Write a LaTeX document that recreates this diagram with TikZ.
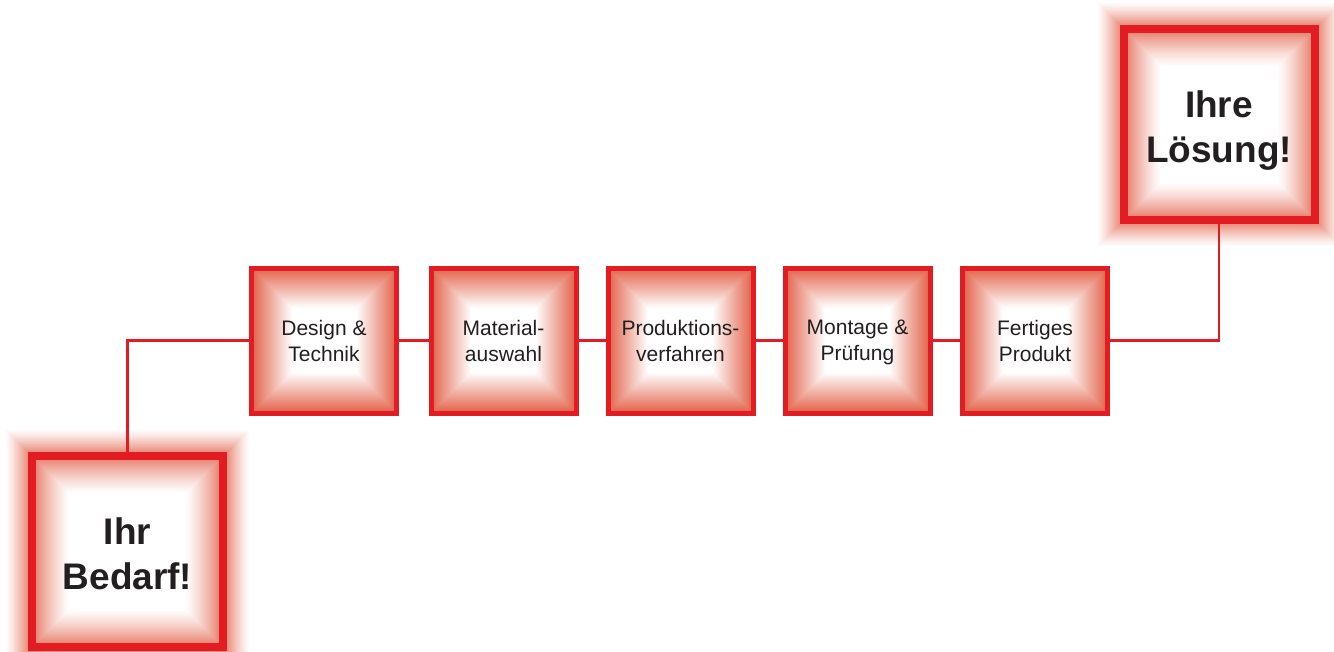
\documentclass[tikz,border=0pt]{standalone}
\usepackage{fontspec}
\setmainfont{Liberation Sans}
\definecolor{bred}{HTML}{E31B23}
\definecolor{glow}{HTML}{E2634A}
\definecolor{txt}{HTML}{231F20}
\newcommand\smallshade[2]{%
  \foreach \i in {0,...,42}{%
    \pgfmathtruncatemacro\p{max(0,100*(1-\i/40))}%
    \pgfmathsetmacro\hh{72.5-\i}%
    \fill[glow!\p!white] (#1-\hh,#2-\hh) rectangle (#1+\hh,#2+\hh);
  }}
\newcommand\bigshade[2]{%
  \foreach \i in {24,...,0}{%
    \pgfmathtruncatemacro\p{75*(1-\i/24)^1.3}%
    \pgfmathsetmacro\hh{99.5+\i}%
    \fill[glow!\p!white] (#1-\hh,#2-\hh) rectangle (#1+\hh,#2+\hh);
  }
  \foreach \i in {0,...,34}{%
    \pgfmathtruncatemacro\p{75*(1-\i/34)^1.3}%
    \pgfmathsetmacro\hh{91.5-\i}%
    \fill[glow!\p!white] (#1-\hh,#2-\hh) rectangle (#1+\hh,#2+\hh);
  }}
\tikzset{
  sbox/.style={draw=bred, line width=5pt, minimum size=145pt, inner sep=0pt, align=center,
    font=\fontsize{21}{26}\selectfont, text=txt, text depth=0pt},
  bbox/.style={draw=bred, line width=8pt, minimum size=191pt, inner sep=0pt, align=center,
    font=\fontsize{37}{45}\selectfont\bfseries, text=txt, text depth=0pt, text height=77pt},
  conn/.style={draw=bred, line width=2.5pt}
}
\begin{document}
\begin{tikzpicture}[x=1pt,y=-1pt]
\fill[white] (0,0) rectangle (1334,651);
\useasboundingbox (0,0) rectangle (1334,651);
\clip (0,0) rectangle (1334,651);
\bigshade{127.5}{551}
\bigshade{1219}{124}
\smallshade{324}{340.5}
\smallshade{503.5}{340.5}
\smallshade{680.5}{340.5}
\smallshade{857.5}{340.5}
\smallshade{1035}{340.5}
\node[bbox] (bed) at (127.5,551) {Ihr\\Bedarf!};
\node[bbox] (sol) at (1219,124) {Ihre\\Lösung!};
\node[sbox] (d1) at (324,340.5) {Design \&\\Technik};
\node[sbox] (d2) at (503.5,340.5) {Material-\\auswahl};
\node[sbox] (d3) at (680.5,340.5) {Produktions-\\verfahren};
\node[sbox] (d4) at (857.5,340.5) {Montage \&\\Prüfung};
\node[sbox] (d5) at (1035,340.5) {Fertiges\\Produkt};
\draw[conn] (bed.north) |- (d1.west);
\draw[conn] (d1.east) -- (d2.west);
\draw[conn] (d2.east) -- (d3.west);
\draw[conn] (d3.east) -- (d4.west);
\draw[conn] (d4.east) -- (d5.west);
\draw[conn] (sol.south) |- (d5.east);
\end{tikzpicture}
\end{document}
